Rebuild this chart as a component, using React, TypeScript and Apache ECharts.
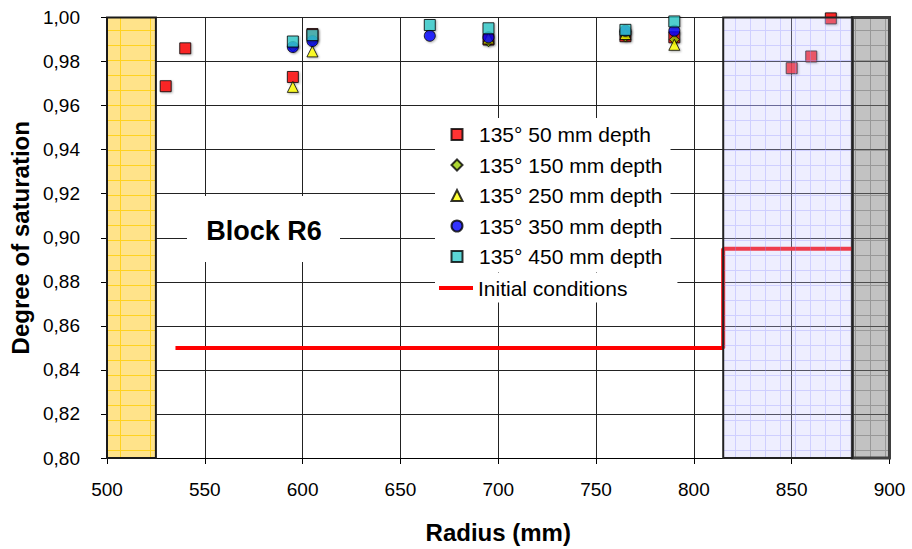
import React, { useEffect, useRef } from "react";
import * as echarts from "echarts";

// ---- data ----
const radius50 = [530, 540, 595, 605, 695, 765, 790, 850, 860, 870];
const sat50 = [0.9688, 0.986, 0.973, 0.9925, 0.99, 0.9915, 0.991, 0.977, 0.9823, 0.9996];
const radius150 = [595, 605, 695, 765, 790];
const sat150 = [0.9866, 0.9893, 0.989, 0.9912, 0.990];
const radius250 = [595, 605, 695, 765, 790];
const sat250 = [0.9685, 0.9846, 0.9905, 0.9925, 0.9876];
const radius350 = [595, 605, 665, 695, 765, 790];
const sat350 = [0.9866, 0.9893, 0.9917, 0.991, 0.994, 0.994];
const radius450 = [595, 605, 665, 695, 765, 790];
const sat450 = [0.9891, 0.992, 0.9966, 0.9951, 0.9944, 0.9982];
const initRadius = [535, 815, 815, 881];
const initSat = [0.85, 0.85, 0.895, 0.895];

const seriesNames = [
  "135° 50 mm depth",
  "135° 150 mm depth",
  "135° 250 mm depth",
  "135° 350 mm depth",
  "135° 450 mm depth",
  "Initial conditions",
];

const yellowBlock = [500, 525];
const blueBlock = [815, 881];
const grayBlock = [881, 900];
const blockLabel = "Block R6";

const xMin = 500, xMax = 900, xStep = 50;
const yMin = 0.8, yMax = 1.0, yStep = 0.02;

const zip = (xs: number[], ys: number[]) => xs.map((x, i) => [x, ys[i]]);

const FONT = "'Liberation Sans', Arial, sans-serif";
const shadow = {
  shadowBlur: 2,
  shadowColor: "rgba(0,0,0,0.35)",
  shadowOffsetX: 1,
  shadowOffsetY: 1,
};

function makePattern(base: string, line: string, w: number, h: number): any {
  try {
    const c = document.createElement("canvas");
    c.width = w;
    c.height = h;
    const ctx = c.getContext("2d");
    if (!ctx) return base;
    ctx.fillStyle = base;
    ctx.fillRect(0, 0, w, h);
    ctx.fillStyle = line;
    ctx.fillRect(0, 0, w, 1);
    ctx.fillRect(0, 1, 1, h - 1);
    return { image: c.toDataURL(), repeat: "repeat" };
  } catch (e) {
    return base;
  }
}

export default function App() {
  const ref = useRef<HTMLDivElement>(null);
  useEffect(() => {
    if (!ref.current) return;
    const chart = echarts.init(ref.current, null, { renderer: "svg", width: 912, height: 549 });
    const scatter = (name: string, data: number[][], symbol: string, size: number, color: string) => ({
      name,
      type: "scatter",
      data,
      symbol,
      symbolSize: size,
      clip: false,
      z: 2,
      itemStyle: { color, borderColor: "#000", borderWidth: 1, ...shadow },
    });
    const yellowFill = makePattern("#FFE38A", "#FFD21F", 30, 15);
    const blueFill = makePattern("rgba(200,200,255,0.3)", "rgba(150,150,255,0.35)", 15, 15);
    const grayFill = makePattern("rgba(125,125,125,0.47)", "rgba(90,90,90,0.4)", 15, 15);
    const legendText = { fontFamily: FONT, fontSize: 21, color: "#000", lineHeight: 21 };
    chart.setOption({
      animation: false,
      backgroundColor: "#fff",
      grid: { left: 107, right: 22.5, top: 17.5, bottom: 88 },
      xAxis: {
        type: "value",
        min: xMin,
        max: xMax,
        interval: xStep,
        name: "Radius (mm)",
        nameLocation: "middle",
        nameGap: 62,
        nameTextStyle: { fontFamily: FONT, fontSize: 24, fontWeight: "bold", color: "#000" },
        axisLine: { show: true, lineStyle: { color: "#000", width: 1 } },
        axisTick: { show: true, length: 6, lineStyle: { color: "#000" } },
        axisLabel: { fontFamily: FONT, fontSize: 19, color: "#000", margin: 22 },
        splitLine: { show: true, lineStyle: { color: "#222", width: 1 } },
      },
      yAxis: {
        type: "value",
        min: yMin,
        max: yMax,
        interval: yStep,
        name: "Degree of saturation",
        nameLocation: "middle",
        nameRotate: 90,
        nameGap: 65,
        nameTextStyle: { fontFamily: FONT, fontSize: 24, fontWeight: "bold", color: "#000" },
        axisLine: { show: true, lineStyle: { color: "#000", width: 1 } },
        axisTick: { show: true, length: 6, lineStyle: { color: "#000" } },
        axisLabel: {
          fontFamily: FONT,
          fontSize: 19,
          color: "#000",
          margin: 27,
          formatter: (v: number) => v.toFixed(2).replace(".", ","),
        },
        splitLine: { show: true, lineStyle: { color: "#222", width: 1 } },
      },
      legend: [
        {
          orient: "vertical",
          left: 435,
          top: 118,
          padding: [6, 8, 5, 15.5],
          backgroundColor: "#fff",
          itemWidth: 11,
          itemHeight: 11,
          itemGap: 9.5,
          textStyle: { ...legendText, padding: [0, 0, 0, 11.5] },
          data: seriesNames.slice(0, 5),
        },
        {
          orient: "vertical",
          left: 435,
          top: 272.5,
          padding: [5, 50, 4, 4],
          backgroundColor: "#fff",
          itemWidth: 34,
          itemHeight: 4,
          textStyle: legendText,
          data: [{ name: seriesNames[5], icon: "rect" }],
        },
      ],
      graphic: [
        {
          type: "rect",
          z: 10,
          shape: { x: 187, y: 196, width: 153, height: 66 },
          style: { fill: "#fff" },
        },
        {
          type: "text",
          z: 11,
          x: 264,
          y: 231,
          style: {
            text: blockLabel,
            fontFamily: FONT,
            fontSize: 27,
            fontWeight: "bold",
            fill: "#000",
            textAlign: "center",
            textVerticalAlign: "middle",
          },
        },
      ],
      series: [
        scatter(seriesNames[0], zip(radius50, sat50), "rect", 11, "#FF0000"),
        scatter(seriesNames[1], zip(radius150, sat150), "diamond", 10, "#99CC00"),
        scatter(seriesNames[2], zip(radius250, sat250), "triangle", 11, "#FFFF00"),
        scatter(seriesNames[3], zip(radius350, sat350), "circle", 11, "#0000FF"),
        scatter(seriesNames[4], zip(radius450, sat450), "rect", 11, "#33CCCC"),
        {
          name: seriesNames[5],
          type: "line",
          data: zip(initRadius, initSat),
          symbol: "none",
          z: 2,
          lineStyle: { color: "#FF0000", width: 4 },
          itemStyle: { color: "#FF0000" },
        },
        {
          name: "blocks-under",
          type: "line",
          data: [],
          markArea: {
            silent: true,
            z: 1,
            data: [
              [
                { xAxis: yellowBlock[0], yAxis: yMin, itemStyle: { color: yellowFill, borderColor: "#1a1a1a", borderWidth: 2 } },
                { xAxis: yellowBlock[1], yAxis: yMax },
              ],
              [
                { xAxis: grayBlock[0], yAxis: yMin, itemStyle: { color: grayFill, borderColor: "#404040", borderWidth: 3 } },
                { xAxis: grayBlock[1], yAxis: yMax },
              ],
            ],
          },
        },
        {
          name: "blocks-over",
          type: "line",
          data: [],
          markArea: {
            silent: true,
            z: 5,
            data: [
              [
                { xAxis: blueBlock[0], yAxis: yMin, itemStyle: { color: blueFill, borderColor: "#222", borderWidth: 2 } },
                { xAxis: blueBlock[1], yAxis: yMax },
              ],
            ],
          },
        },
      ],
    });
    return () => chart.dispose();
  }, []);
  return (
    <div
      ref={ref}
      style={{ position: "fixed", left: 0, top: 0, width: 912, height: 549, background: "#fff" }}
    />
  );
}
